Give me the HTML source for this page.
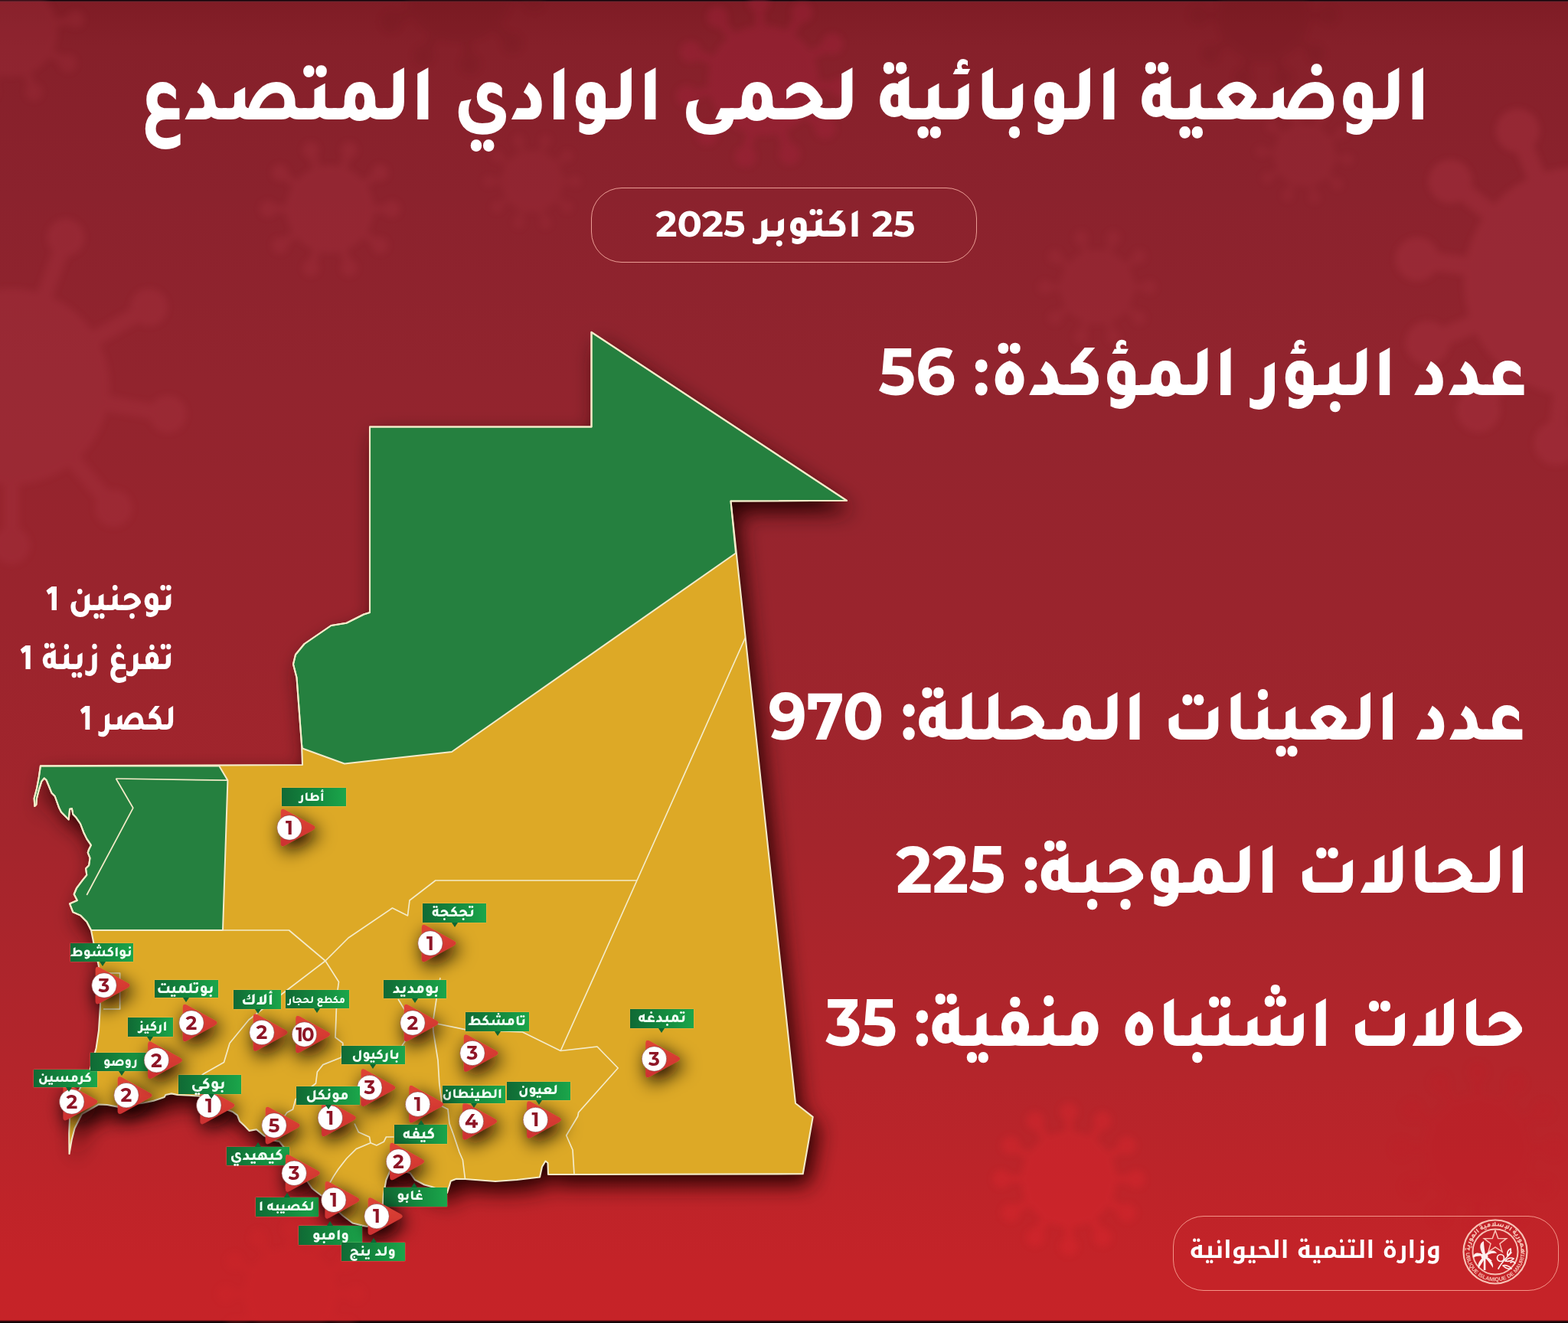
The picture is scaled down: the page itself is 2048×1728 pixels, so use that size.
<!DOCTYPE html><html lang="ar"><head><meta charset="utf-8"><title>الوضعية الوبائية لحمى الوادي المتصدع</title>
<style>

*{box-sizing:border-box;margin:0;padding:0}
html,body{width:2048px;height:1728px;overflow:hidden}
body{position:relative;font-family:"Almarai", "DejaVu Sans", sans-serif;color:#fff;
background:linear-gradient(180deg,#14040a 0px,#14040a 1px,#6d2a33 2px,#7f1c25 3px,#86202a 60px,#8b222d 250px,#92242e 500px,#9a242d 800px,#a4252c 1100px,#b4252b 1400px,#c42328 1650px,#c62328 1724px,#200508 1726px,#0a0204 1728px)}
.abs{position:absolute}
.txt{position:absolute;font-family:"Tajawal", "Almarai", "DejaVu Sans", sans-serif;font-weight:800;white-space:nowrap;direction:rtl;transform-origin:right center;line-height:0}
.txt b{font-family:"Montserrat", "Liberation Sans", sans-serif;font-weight:700}
.lb{position:absolute;background:linear-gradient(90deg,#106a35 0%,#148a3f 55%,#1ba64b 100%);color:#f1fff5;
font-family:"Tajawal", "Almarai", "DejaVu Sans", sans-serif;font-weight:800;white-space:nowrap;direction:rtl;box-shadow:0 0 1.5px rgba(255,230,160,.6)}
.lb span{position:absolute;line-height:0;white-space:nowrap;direction:rtl}
.lb i{position:absolute;width:0;height:0;border-left:4px solid transparent;border-right:4px solid transparent}
.lb i.down{top:100%;border-top:6px solid #0f6632}
.lb i.up{bottom:100%;border-bottom:6px solid #0f6632}
.pill{position:absolute;border:1.7px solid rgba(245,170,160,.9);border-radius:40px}

</style></head><body>
<svg class="abs" style="left:0;top:0" width="2048" height="1728" viewBox="0 0 2048 1728">
<defs><filter id="bl" x="-50%" y="-50%" width="200%" height="200%"><feGaussianBlur stdDeviation="4.5"/></filter><filter id="bl2" x="-50%" y="-50%" width="200%" height="200%"><feGaussianBlur stdDeviation="14"/></filter></defs>
<g opacity="0.36" filter="url(#bl)" fill="#a8323f" stroke="#a8323f"><circle cx="15" cy="505" r="128" stroke="none"/><line x1="128.4" y1="525.0" x2="219.2" y2="541.0" stroke-width="20.5"/><circle cx="219.2" cy="541.0" r="24.3" stroke="none"/><line x1="89.0" y1="593.2" x2="148.3" y2="663.8" stroke-width="20.5"/><circle cx="148.3" cy="663.8" r="24.3" stroke="none"/><line x1="15.0" y1="620.2" x2="15.0" y2="712.4" stroke-width="20.5"/><circle cx="15.0" cy="712.4" r="24.3" stroke="none"/><line x1="-59.0" y1="593.2" x2="-118.3" y2="663.8" stroke-width="20.5"/><circle cx="-118.3" cy="663.8" r="24.3" stroke="none"/><line x1="-98.4" y1="525.0" x2="-189.2" y2="541.0" stroke-width="20.5"/><circle cx="-189.2" cy="541.0" r="24.3" stroke="none"/><line x1="-84.8" y1="447.4" x2="-164.6" y2="401.3" stroke-width="20.5"/><circle cx="-164.6" cy="401.3" r="24.3" stroke="none"/><line x1="-24.4" y1="396.7" x2="-55.9" y2="310.1" stroke-width="20.5"/><circle cx="-55.9" cy="310.1" r="24.3" stroke="none"/><line x1="54.4" y1="396.7" x2="85.9" y2="310.1" stroke-width="20.5"/><circle cx="85.9" cy="310.1" r="24.3" stroke="none"/><line x1="114.8" y1="447.4" x2="194.6" y2="401.3" stroke-width="20.5"/><circle cx="194.6" cy="401.3" r="24.3" stroke="none"/></g>
<g opacity="0.25" filter="url(#bl)" fill="#a8323f" stroke="#a8323f"><circle cx="15" cy="40" r="60" stroke="none"/><line x1="61.8" y1="67.0" x2="88.8" y2="82.6" stroke-width="9.6"/><circle cx="88.8" cy="82.6" r="11.4" stroke="none"/><line x1="33.5" y1="90.7" x2="44.1" y2="120.1" stroke-width="9.6"/><circle cx="44.1" cy="120.1" r="11.4" stroke="none"/><line x1="-3.5" y1="90.7" x2="-14.1" y2="120.1" stroke-width="9.6"/><circle cx="-14.1" cy="120.1" r="11.4" stroke="none"/><line x1="-31.8" y1="67.0" x2="-58.8" y2="82.6" stroke-width="9.6"/><circle cx="-58.8" cy="82.6" r="11.4" stroke="none"/><line x1="-38.2" y1="30.6" x2="-68.9" y2="25.2" stroke-width="9.6"/><circle cx="-68.9" cy="25.2" r="11.4" stroke="none"/><line x1="-19.7" y1="-1.4" x2="-39.8" y2="-25.3" stroke-width="9.6"/><circle cx="-39.8" cy="-25.3" r="11.4" stroke="none"/><line x1="15.0" y1="-14.0" x2="15.0" y2="-45.2" stroke-width="9.6"/><circle cx="15.0" cy="-45.2" r="11.4" stroke="none"/><line x1="49.7" y1="-1.4" x2="69.8" y2="-25.3" stroke-width="9.6"/><circle cx="69.8" cy="-25.3" r="11.4" stroke="none"/><line x1="68.2" y1="30.6" x2="98.9" y2="25.2" stroke-width="9.6"/><circle cx="98.9" cy="25.2" r="11.4" stroke="none"/></g>
<g opacity="0.3" filter="url(#bl)" fill="#a8323f" stroke="#a8323f"><circle cx="431" cy="273" r="57" stroke="none"/><line x1="482.3" y1="273.0" x2="511.9" y2="273.0" stroke-width="9.1"/><circle cx="511.9" cy="273.0" r="10.8" stroke="none"/><line x1="472.5" y1="303.2" x2="496.5" y2="320.6" stroke-width="9.1"/><circle cx="496.5" cy="320.6" r="10.8" stroke="none"/><line x1="446.9" y1="321.8" x2="456.0" y2="350.0" stroke-width="9.1"/><circle cx="456.0" cy="350.0" r="10.8" stroke="none"/><line x1="415.1" y1="321.8" x2="406.0" y2="350.0" stroke-width="9.1"/><circle cx="406.0" cy="350.0" r="10.8" stroke="none"/><line x1="389.5" y1="303.2" x2="365.5" y2="320.6" stroke-width="9.1"/><circle cx="365.5" cy="320.6" r="10.8" stroke="none"/><line x1="379.7" y1="273.0" x2="350.1" y2="273.0" stroke-width="9.1"/><circle cx="350.1" cy="273.0" r="10.8" stroke="none"/><line x1="389.5" y1="242.8" x2="365.5" y2="225.4" stroke-width="9.1"/><circle cx="365.5" cy="225.4" r="10.8" stroke="none"/><line x1="415.1" y1="224.2" x2="406.0" y2="196.0" stroke-width="9.1"/><circle cx="406.0" cy="196.0" r="10.8" stroke="none"/><line x1="446.9" y1="224.2" x2="456.0" y2="196.0" stroke-width="9.1"/><circle cx="456.0" cy="196.0" r="10.8" stroke="none"/><line x1="472.5" y1="242.8" x2="496.5" y2="225.4" stroke-width="9.1"/><circle cx="496.5" cy="225.4" r="10.8" stroke="none"/></g>
<g opacity="0.22" filter="url(#bl)" fill="#a8323f" stroke="#a8323f"><circle cx="695" cy="237" r="40" stroke="none"/><line x1="731.0" y1="237.0" x2="751.8" y2="237.0" stroke-width="6.4"/><circle cx="751.8" cy="237.0" r="7.6" stroke="none"/><line x1="724.1" y1="258.2" x2="741.0" y2="270.4" stroke-width="6.4"/><circle cx="741.0" cy="270.4" r="7.6" stroke="none"/><line x1="706.1" y1="271.2" x2="712.6" y2="291.0" stroke-width="6.4"/><circle cx="712.6" cy="291.0" r="7.6" stroke="none"/><line x1="683.9" y1="271.2" x2="677.4" y2="291.0" stroke-width="6.4"/><circle cx="677.4" cy="291.0" r="7.6" stroke="none"/><line x1="665.9" y1="258.2" x2="649.0" y2="270.4" stroke-width="6.4"/><circle cx="649.0" cy="270.4" r="7.6" stroke="none"/><line x1="659.0" y1="237.0" x2="638.2" y2="237.0" stroke-width="6.4"/><circle cx="638.2" cy="237.0" r="7.6" stroke="none"/><line x1="665.9" y1="215.8" x2="649.0" y2="203.6" stroke-width="6.4"/><circle cx="649.0" cy="203.6" r="7.6" stroke="none"/><line x1="683.9" y1="202.8" x2="677.4" y2="183.0" stroke-width="6.4"/><circle cx="677.4" cy="183.0" r="7.6" stroke="none"/><line x1="706.1" y1="202.8" x2="712.6" y2="183.0" stroke-width="6.4"/><circle cx="712.6" cy="183.0" r="7.6" stroke="none"/><line x1="724.1" y1="215.8" x2="741.0" y2="203.6" stroke-width="6.4"/><circle cx="741.0" cy="203.6" r="7.6" stroke="none"/></g>
<g opacity="0.22" filter="url(#bl)" fill="#6e121c" stroke="#6e121c"><circle cx="600" cy="-15" r="70" stroke="none"/><line x1="662.0" y1="-4.1" x2="697.9" y2="2.3" stroke-width="11.2"/><circle cx="697.9" cy="2.3" r="13.3" stroke="none"/><line x1="643.8" y1="30.3" x2="669.0" y2="56.5" stroke-width="11.2"/><circle cx="669.0" cy="56.5" r="13.3" stroke="none"/><line x1="608.8" y1="47.4" x2="613.8" y2="83.4" stroke-width="11.2"/><circle cx="613.8" cy="83.4" r="13.3" stroke="none"/><line x1="570.4" y1="40.6" x2="553.3" y2="72.8" stroke-width="11.2"/><circle cx="553.3" cy="72.8" r="13.3" stroke="none"/><line x1="543.4" y1="12.6" x2="510.7" y2="28.6" stroke-width="11.2"/><circle cx="510.7" cy="28.6" r="13.3" stroke="none"/><line x1="538.0" y1="-25.9" x2="502.1" y2="-32.3" stroke-width="11.2"/><circle cx="502.1" cy="-32.3" r="13.3" stroke="none"/><line x1="556.2" y1="-60.3" x2="531.0" y2="-86.5" stroke-width="11.2"/><circle cx="531.0" cy="-86.5" r="13.3" stroke="none"/><line x1="591.2" y1="-77.4" x2="586.2" y2="-113.4" stroke-width="11.2"/><circle cx="586.2" cy="-113.4" r="13.3" stroke="none"/><line x1="629.6" y1="-70.6" x2="646.7" y2="-102.8" stroke-width="11.2"/><circle cx="646.7" cy="-102.8" r="13.3" stroke="none"/><line x1="656.6" y1="-42.6" x2="689.3" y2="-58.6" stroke-width="11.2"/><circle cx="689.3" cy="-58.6" r="13.3" stroke="none"/></g>
<g opacity="0.35" filter="url(#bl)" fill="#a8243e" stroke="#a8243e"><circle cx="997" cy="105" r="72" stroke="none"/><line x1="1061.6" y1="110.6" x2="1098.9" y2="113.9" stroke-width="11.5"/><circle cx="1098.9" cy="113.9" r="13.7" stroke="none"/><line x1="1048.3" y1="144.7" x2="1077.9" y2="167.6" stroke-width="11.5"/><circle cx="1077.9" cy="167.6" r="13.7" stroke="none"/><line x1="1018.7" y1="166.1" x2="1031.2" y2="201.3" stroke-width="11.5"/><circle cx="1031.2" cy="201.3" r="13.7" stroke="none"/><line x1="982.2" y1="168.1" x2="973.7" y2="204.5" stroke-width="11.5"/><circle cx="973.7" cy="204.5" r="13.7" stroke="none"/><line x1="950.5" y1="150.1" x2="923.6" y2="176.1" stroke-width="11.5"/><circle cx="923.6" cy="176.1" r="13.7" stroke="none"/><line x1="933.5" y1="117.8" x2="896.8" y2="125.1" stroke-width="11.5"/><circle cx="896.8" cy="125.1" r="13.7" stroke="none"/><line x1="936.7" y1="81.4" x2="901.8" y2="67.8" stroke-width="11.5"/><circle cx="901.8" cy="67.8" r="13.7" stroke="none"/><line x1="959.0" y1="52.5" x2="937.0" y2="22.2" stroke-width="11.5"/><circle cx="937.0" cy="22.2" r="13.7" stroke="none"/><line x1="993.4" y1="40.3" x2="991.3" y2="2.9" stroke-width="11.5"/><circle cx="991.3" cy="2.9" r="13.7" stroke="none"/><line x1="1029.0" y1="48.6" x2="1047.4" y2="16.1" stroke-width="11.5"/><circle cx="1047.4" cy="16.1" r="13.7" stroke="none"/><line x1="1054.4" y1="74.9" x2="1087.5" y2="57.4" stroke-width="11.5"/><circle cx="1087.5" cy="57.4" r="13.7" stroke="none"/></g>
<g opacity="0.22" filter="url(#bl)" fill="#6e121c" stroke="#6e121c"><circle cx="1650" cy="20" r="60" stroke="none"/><line x1="1704.0" y1="20.0" x2="1735.2" y2="20.0" stroke-width="9.6"/><circle cx="1735.2" cy="20.0" r="11.4" stroke="none"/><line x1="1693.7" y1="51.7" x2="1718.9" y2="70.1" stroke-width="9.6"/><circle cx="1718.9" cy="70.1" r="11.4" stroke="none"/><line x1="1666.7" y1="71.4" x2="1676.3" y2="101.0" stroke-width="9.6"/><circle cx="1676.3" cy="101.0" r="11.4" stroke="none"/><line x1="1633.3" y1="71.4" x2="1623.7" y2="101.0" stroke-width="9.6"/><circle cx="1623.7" cy="101.0" r="11.4" stroke="none"/><line x1="1606.3" y1="51.7" x2="1581.1" y2="70.1" stroke-width="9.6"/><circle cx="1581.1" cy="70.1" r="11.4" stroke="none"/><line x1="1596.0" y1="20.0" x2="1564.8" y2="20.0" stroke-width="9.6"/><circle cx="1564.8" cy="20.0" r="11.4" stroke="none"/><line x1="1606.3" y1="-11.7" x2="1581.1" y2="-30.1" stroke-width="9.6"/><circle cx="1581.1" cy="-30.1" r="11.4" stroke="none"/><line x1="1633.3" y1="-31.4" x2="1623.7" y2="-61.0" stroke-width="9.6"/><circle cx="1623.7" cy="-61.0" r="11.4" stroke="none"/><line x1="1666.7" y1="-31.4" x2="1676.3" y2="-61.0" stroke-width="9.6"/><circle cx="1676.3" cy="-61.0" r="11.4" stroke="none"/><line x1="1693.7" y1="-11.7" x2="1718.9" y2="-30.1" stroke-width="9.6"/><circle cx="1718.9" cy="-30.1" r="11.4" stroke="none"/></g>
<g opacity="0.42" filter="url(#bl)" fill="#a8323f" stroke="#a8323f"><circle cx="2062" cy="368" r="150" stroke="none"/><line x1="2195.7" y1="386.8" x2="2272.9" y2="397.6" stroke-width="24.0"/><circle cx="2272.9" cy="397.6" r="28.5" stroke="none"/><line x1="2168.4" y1="451.1" x2="2229.8" y2="499.1" stroke-width="24.0"/><circle cx="2229.8" cy="499.1" r="28.5" stroke="none"/><line x1="2112.6" y1="493.2" x2="2141.8" y2="565.5" stroke-width="24.0"/><circle cx="2141.8" cy="565.5" r="28.5" stroke="none"/><line x1="2043.2" y1="501.7" x2="2032.4" y2="578.9" stroke-width="24.0"/><circle cx="2032.4" cy="578.9" r="28.5" stroke="none"/><line x1="1978.9" y1="474.4" x2="1930.9" y2="535.8" stroke-width="24.0"/><circle cx="1930.9" cy="535.8" r="28.5" stroke="none"/><line x1="1936.8" y1="418.6" x2="1864.5" y2="447.8" stroke-width="24.0"/><circle cx="1864.5" cy="447.8" r="28.5" stroke="none"/><line x1="1928.3" y1="349.2" x2="1851.1" y2="338.4" stroke-width="24.0"/><circle cx="1851.1" cy="338.4" r="28.5" stroke="none"/><line x1="1955.6" y1="284.9" x2="1894.2" y2="236.9" stroke-width="24.0"/><circle cx="1894.2" cy="236.9" r="28.5" stroke="none"/><line x1="2011.4" y1="242.8" x2="1982.2" y2="170.5" stroke-width="24.0"/><circle cx="1982.2" cy="170.5" r="28.5" stroke="none"/><line x1="2080.8" y1="234.3" x2="2091.6" y2="157.1" stroke-width="24.0"/><circle cx="2091.6" cy="157.1" r="28.5" stroke="none"/><line x1="2145.1" y1="261.6" x2="2193.1" y2="200.2" stroke-width="24.0"/><circle cx="2193.1" cy="200.2" r="28.5" stroke="none"/><line x1="2187.2" y1="317.4" x2="2259.5" y2="288.2" stroke-width="24.0"/><circle cx="2259.5" cy="288.2" r="28.5" stroke="none"/></g>
<g opacity="0.25" filter="url(#bl)" fill="#a8323f" stroke="#a8323f"><circle cx="1433" cy="375" r="48" stroke="none"/><line x1="1476.2" y1="375.0" x2="1501.2" y2="375.0" stroke-width="7.7"/><circle cx="1501.2" cy="375.0" r="9.1" stroke="none"/><line x1="1467.9" y1="400.4" x2="1488.1" y2="415.1" stroke-width="7.7"/><circle cx="1488.1" cy="415.1" r="9.1" stroke="none"/><line x1="1446.3" y1="416.1" x2="1454.1" y2="439.8" stroke-width="7.7"/><circle cx="1454.1" cy="439.8" r="9.1" stroke="none"/><line x1="1419.7" y1="416.1" x2="1411.9" y2="439.8" stroke-width="7.7"/><circle cx="1411.9" cy="439.8" r="9.1" stroke="none"/><line x1="1398.1" y1="400.4" x2="1377.9" y2="415.1" stroke-width="7.7"/><circle cx="1377.9" cy="415.1" r="9.1" stroke="none"/><line x1="1389.8" y1="375.0" x2="1364.8" y2="375.0" stroke-width="7.7"/><circle cx="1364.8" cy="375.0" r="9.1" stroke="none"/><line x1="1398.1" y1="349.6" x2="1377.9" y2="334.9" stroke-width="7.7"/><circle cx="1377.9" cy="334.9" r="9.1" stroke="none"/><line x1="1419.7" y1="333.9" x2="1411.9" y2="310.2" stroke-width="7.7"/><circle cx="1411.9" cy="310.2" r="9.1" stroke="none"/><line x1="1446.3" y1="333.9" x2="1454.1" y2="310.2" stroke-width="7.7"/><circle cx="1454.1" cy="310.2" r="9.1" stroke="none"/><line x1="1467.9" y1="349.6" x2="1488.1" y2="334.9" stroke-width="7.7"/><circle cx="1488.1" cy="334.9" r="9.1" stroke="none"/></g>
<g opacity="0.22" filter="url(#bl)" fill="#a8323f" stroke="#a8323f"><circle cx="1704" cy="203" r="40" stroke="none"/><line x1="1739.9" y1="206.1" x2="1760.6" y2="208.0" stroke-width="6.4"/><circle cx="1760.6" cy="208.0" r="7.6" stroke="none"/><line x1="1731.2" y1="226.6" x2="1746.9" y2="240.3" stroke-width="6.4"/><circle cx="1746.9" cy="240.3" r="7.6" stroke="none"/><line x1="1712.1" y1="238.1" x2="1716.8" y2="258.3" stroke-width="6.4"/><circle cx="1716.8" cy="258.3" r="7.6" stroke="none"/><line x1="1689.9" y1="236.1" x2="1681.8" y2="255.3" stroke-width="6.4"/><circle cx="1681.8" cy="255.3" r="7.6" stroke="none"/><line x1="1673.1" y1="221.5" x2="1655.3" y2="232.3" stroke-width="6.4"/><circle cx="1655.3" cy="232.3" r="7.6" stroke="none"/><line x1="1668.1" y1="199.9" x2="1647.4" y2="198.0" stroke-width="6.4"/><circle cx="1647.4" cy="198.0" r="7.6" stroke="none"/><line x1="1676.8" y1="179.4" x2="1661.1" y2="165.7" stroke-width="6.4"/><circle cx="1661.1" cy="165.7" r="7.6" stroke="none"/><line x1="1695.9" y1="167.9" x2="1691.2" y2="147.7" stroke-width="6.4"/><circle cx="1691.2" cy="147.7" r="7.6" stroke="none"/><line x1="1718.1" y1="169.9" x2="1726.2" y2="150.7" stroke-width="6.4"/><circle cx="1726.2" cy="150.7" r="7.6" stroke="none"/><line x1="1734.9" y1="184.5" x2="1752.7" y2="173.7" stroke-width="6.4"/><circle cx="1752.7" cy="173.7" r="7.6" stroke="none"/></g>
<g opacity="0.35" filter="url(#bl)" fill="#e0282e" stroke="#e0282e"><circle cx="1396" cy="1540" r="62" stroke="none"/><line x1="1451.8" y1="1540.0" x2="1484.0" y2="1540.0" stroke-width="9.9"/><circle cx="1484.0" cy="1540.0" r="11.8" stroke="none"/><line x1="1444.3" y1="1567.9" x2="1472.2" y2="1584.0" stroke-width="9.9"/><circle cx="1472.2" cy="1584.0" r="11.8" stroke="none"/><line x1="1423.9" y1="1588.3" x2="1440.0" y2="1616.2" stroke-width="9.9"/><circle cx="1440.0" cy="1616.2" r="11.8" stroke="none"/><line x1="1396.0" y1="1595.8" x2="1396.0" y2="1628.0" stroke-width="9.9"/><circle cx="1396.0" cy="1628.0" r="11.8" stroke="none"/><line x1="1368.1" y1="1588.3" x2="1352.0" y2="1616.2" stroke-width="9.9"/><circle cx="1352.0" cy="1616.2" r="11.8" stroke="none"/><line x1="1347.7" y1="1567.9" x2="1319.8" y2="1584.0" stroke-width="9.9"/><circle cx="1319.8" cy="1584.0" r="11.8" stroke="none"/><line x1="1340.2" y1="1540.0" x2="1308.0" y2="1540.0" stroke-width="9.9"/><circle cx="1308.0" cy="1540.0" r="11.8" stroke="none"/><line x1="1347.7" y1="1512.1" x2="1319.8" y2="1496.0" stroke-width="9.9"/><circle cx="1319.8" cy="1496.0" r="11.8" stroke="none"/><line x1="1368.1" y1="1491.7" x2="1352.0" y2="1463.8" stroke-width="9.9"/><circle cx="1352.0" cy="1463.8" r="11.8" stroke="none"/><line x1="1396.0" y1="1484.2" x2="1396.0" y2="1452.0" stroke-width="9.9"/><circle cx="1396.0" cy="1452.0" r="11.8" stroke="none"/><line x1="1423.9" y1="1491.7" x2="1440.0" y2="1463.8" stroke-width="9.9"/><circle cx="1440.0" cy="1463.8" r="11.8" stroke="none"/><line x1="1444.3" y1="1512.1" x2="1472.2" y2="1496.0" stroke-width="9.9"/><circle cx="1472.2" cy="1496.0" r="11.8" stroke="none"/></g>
<g opacity="0.25" filter="url(#bl)" fill="#c01e25" stroke="#c01e25"><circle cx="1930" cy="1500" r="70" stroke="none"/><line x1="1993.0" y1="1500.0" x2="2029.4" y2="1500.0" stroke-width="11.2"/><circle cx="2029.4" cy="1500.0" r="13.3" stroke="none"/><line x1="1984.6" y1="1531.5" x2="2016.1" y2="1549.7" stroke-width="11.2"/><circle cx="2016.1" cy="1549.7" r="13.3" stroke="none"/><line x1="1961.5" y1="1554.6" x2="1979.7" y2="1586.1" stroke-width="11.2"/><circle cx="1979.7" cy="1586.1" r="13.3" stroke="none"/><line x1="1930.0" y1="1563.0" x2="1930.0" y2="1599.4" stroke-width="11.2"/><circle cx="1930.0" cy="1599.4" r="13.3" stroke="none"/><line x1="1898.5" y1="1554.6" x2="1880.3" y2="1586.1" stroke-width="11.2"/><circle cx="1880.3" cy="1586.1" r="13.3" stroke="none"/><line x1="1875.4" y1="1531.5" x2="1843.9" y2="1549.7" stroke-width="11.2"/><circle cx="1843.9" cy="1549.7" r="13.3" stroke="none"/><line x1="1867.0" y1="1500.0" x2="1830.6" y2="1500.0" stroke-width="11.2"/><circle cx="1830.6" cy="1500.0" r="13.3" stroke="none"/><line x1="1875.4" y1="1468.5" x2="1843.9" y2="1450.3" stroke-width="11.2"/><circle cx="1843.9" cy="1450.3" r="13.3" stroke="none"/><line x1="1898.5" y1="1445.4" x2="1880.3" y2="1413.9" stroke-width="11.2"/><circle cx="1880.3" cy="1413.9" r="13.3" stroke="none"/><line x1="1930.0" y1="1437.0" x2="1930.0" y2="1400.6" stroke-width="11.2"/><circle cx="1930.0" cy="1400.6" r="13.3" stroke="none"/><line x1="1961.5" y1="1445.4" x2="1979.7" y2="1413.9" stroke-width="11.2"/><circle cx="1979.7" cy="1413.9" r="13.3" stroke="none"/><line x1="1984.6" y1="1468.5" x2="2016.1" y2="1450.3" stroke-width="11.2"/><circle cx="2016.1" cy="1450.3" r="13.3" stroke="none"/></g>
<g opacity="0.2" filter="url(#bl)" fill="#d8262c" stroke="#d8262c"><circle cx="380" cy="1690" r="60" stroke="none"/><line x1="434.0" y1="1690.0" x2="465.2" y2="1690.0" stroke-width="9.6"/><circle cx="465.2" cy="1690.0" r="11.4" stroke="none"/><line x1="426.8" y1="1717.0" x2="453.8" y2="1732.6" stroke-width="9.6"/><circle cx="453.8" cy="1732.6" r="11.4" stroke="none"/><line x1="407.0" y1="1736.8" x2="422.6" y2="1763.8" stroke-width="9.6"/><circle cx="422.6" cy="1763.8" r="11.4" stroke="none"/><line x1="380.0" y1="1744.0" x2="380.0" y2="1775.2" stroke-width="9.6"/><circle cx="380.0" cy="1775.2" r="11.4" stroke="none"/><line x1="353.0" y1="1736.8" x2="337.4" y2="1763.8" stroke-width="9.6"/><circle cx="337.4" cy="1763.8" r="11.4" stroke="none"/><line x1="333.2" y1="1717.0" x2="306.2" y2="1732.6" stroke-width="9.6"/><circle cx="306.2" cy="1732.6" r="11.4" stroke="none"/><line x1="326.0" y1="1690.0" x2="294.8" y2="1690.0" stroke-width="9.6"/><circle cx="294.8" cy="1690.0" r="11.4" stroke="none"/><line x1="333.2" y1="1663.0" x2="306.2" y2="1647.4" stroke-width="9.6"/><circle cx="306.2" cy="1647.4" r="11.4" stroke="none"/><line x1="353.0" y1="1643.2" x2="337.4" y2="1616.2" stroke-width="9.6"/><circle cx="337.4" cy="1616.2" r="11.4" stroke="none"/><line x1="380.0" y1="1636.0" x2="380.0" y2="1604.8" stroke-width="9.6"/><circle cx="380.0" cy="1604.8" r="11.4" stroke="none"/><line x1="407.0" y1="1643.2" x2="422.6" y2="1616.2" stroke-width="9.6"/><circle cx="422.6" cy="1616.2" r="11.4" stroke="none"/><line x1="426.8" y1="1663.0" x2="453.8" y2="1647.4" stroke-width="9.6"/><circle cx="453.8" cy="1647.4" r="11.4" stroke="none"/></g>
</svg>
<div class="txt" style="right:180.0px;top:141.3px;font-size:105px;transform:scaleX(0.9263)">الوضعية الوبائية لحمى الوادي المتصدع</div>
<div class="pill" style="left:772px;top:245px;width:504px;height:98px"></div>
<div class="txt" style="right:853.2px;top:293.0px;font-size:53px;transform:scaleX(1.0169)"><b style="font-size:47px">25</b> اكتوبر <b style="font-size:47px">2025</b></div>
<svg class="abs" style="left:0;top:0" width="2048" height="1728" viewBox="0 0 2048 1728">
<defs><filter id="msh" x="-20%" y="-20%" width="140%" height="140%"><feGaussianBlur in="SourceAlpha" stdDeviation="14"/><feOffset dx="8" dy="14" result="o"/><feFlood flood-color="#260000" flood-opacity="1"/><feComposite in2="o" operator="in"/><feMerge><feMergeNode/><feMergeNode in="SourceGraphic"/></feMerge></filter><filter id="mks" x="-80%" y="-80%" width="260%" height="260%"><feGaussianBlur in="SourceAlpha" stdDeviation="12"/><feOffset dx="5" dy="8" result="o"/><feFlood flood-color="#100300" flood-opacity="1"/><feComposite in2="o" operator="in"/><feMerge><feMergeNode/><feMergeNode in="SourceGraphic"/></feMerge></filter><linearGradient id="mkg" x1="0" y1="0" x2="0" y2="1"><stop offset="0" stop-color="#df4536"/><stop offset="1" stop-color="#cc3030"/></linearGradient></defs>
<g filter="url(#msh)"><polygon points="772.5,433.8 1106.0,653.8 954.5,654.5 1039.0,1441.0 1061.7,1458.8 1048.7,1533.3 750.0,1534.0 716.0,1534.0 715.5,1519.0 712.5,1516.5 708.0,1524.0 705.0,1537.5 675.0,1541.0 647.0,1543.0 607.5,1540.0 596.0,1539.7 588.8,1542.5 584.0,1558.0 563.8,1550.0 554.4,1547.5 541.9,1541.0 535.6,1532.0 520.0,1528.0 510.6,1527.0 504.4,1541.0 501.0,1560.0 499.7,1574.0 496.0,1590.0 486.0,1600.0 479.4,1602.0 473.0,1600.6 460.6,1597.5 448.0,1588.0 436.0,1577.0 420.0,1561.6 413.8,1557.0 407.5,1552.0 401.0,1542.5 390.0,1526.0 378.8,1514.0 373.0,1501.0 365.0,1491.0 356.9,1489.4 344.4,1483.0 335.0,1475.3 325.6,1476.9 319.4,1470.6 313.0,1464.4 310.0,1456.6 303.8,1452.0 294.4,1448.8 278.8,1439.4 260.0,1431.6 247.5,1430.8 231.9,1430.0 224.0,1428.4 216.3,1430.0 214.7,1433.0 200.6,1437.8 185.0,1441.0 169.4,1442.5 153.8,1445.6 140.0,1443.0 128.8,1442.5 107.0,1455.0 97.5,1473.8 93.6,1489.0 90.5,1507.0 90.2,1480.0 91.2,1458.0 94.0,1446.0 100.0,1430.0 108.0,1415.0 116.0,1402.5 120.0,1389.0 125.6,1369.0 129.0,1346.0 131.0,1312.5 129.0,1262.0 122.0,1230.0 119.0,1215.0 113.3,1203.9 105.0,1195.6 95.3,1191.4 91.1,1180.3 100.8,1176.0 96.7,1168.0 100.0,1160.0 107.8,1149.7 113.3,1142.8 112.0,1134.4 116.1,1130.3 117.5,1120.6 114.7,1113.6 116.1,1109.4 118.9,1103.9 113.3,1095.6 109.2,1087.2 105.0,1076.0 99.4,1067.8 95.3,1063.6 93.9,1056.0 91.1,1056.7 89.7,1070.5 80.0,1060.8 77.2,1055.3 71.7,1040.0 67.5,1035.8 60.6,1019.0 57.8,1016.4 54.3,1020.6 50.8,1031.7 48.0,1042.8 47.4,1051.0 45.3,1053.0 44.6,1042.8 48.0,1030.0 50.8,1015.0 52.9,1000.4 395.0,999.0 394.0,972.0 387.5,885.0 383.0,867.5 386.0,855.0 397.5,841.0 432.5,817.0 452.5,813.8 475.0,802.5 483.0,800.0 483.0,557.5 772.5,557.5" fill="#DDA927"/></g>
<polygon points="772.5,433.8 1106.0,653.8 954.5,654.5 961.0,722.5 590.0,982.0 450.0,997.5 395.0,977.5 394.0,972.0 387.5,885.0 383.0,867.5 386.0,855.0 397.5,841.0 432.5,817.0 452.5,813.8 475.0,802.5 483.0,800.0 483.0,557.5 772.5,557.5" fill="#25803F" stroke="#F4EBC9" stroke-width="2" stroke-linejoin="round"/>
<polygon points="52.9,1000.4 286.3,1000.4 297.4,1019.2 291.0,1215.0 119.0,1215.0 113.3,1203.9 105.0,1195.6 95.3,1191.4 91.1,1180.3 100.8,1176.0 96.7,1168.0 100.0,1160.0 107.8,1149.7 113.3,1142.8 112.0,1134.4 116.1,1130.3 117.5,1120.6 114.7,1113.6 116.1,1109.4 118.9,1103.9 113.3,1095.6 109.2,1087.2 105.0,1076.0 99.4,1067.8 95.3,1063.6 93.9,1056.0 91.1,1056.7 89.7,1070.5 80.0,1060.8 77.2,1055.3 71.7,1040.0 67.5,1035.8 60.6,1019.0 57.8,1016.4 54.3,1020.6 50.8,1031.7 48.0,1042.8 47.4,1051.0 45.3,1053.0 44.6,1042.8 48.0,1030.0 50.8,1015.0" fill="#25803F" stroke="#F4EBC9" stroke-width="2" stroke-linejoin="round"/>
<polyline points="151.5,1017.0 297.4,1019.2" fill="none" stroke="#F4EBC9" stroke-width="1.7" stroke-linejoin="round"/>
<polyline points="151.5,1017.0 173.8,1055.3 113.3,1169.0" fill="none" stroke="#F4EBC9" stroke-width="1.7" stroke-linejoin="round"/>
<polyline points="119.0,1215.0 377.5,1215.0 425.0,1255.0 442.5,1282.5 440.0,1300.0 438.0,1355.0 448.0,1362.5" fill="none" stroke="#F4EBC9" stroke-width="1.7" stroke-linejoin="round"/>
<polyline points="448.0,1362.5 446.0,1381.0 421.9,1390.6 414.4,1400.0 412.5,1415.0 386.0,1436.0 382.5,1449.0 375.0,1453.0 365.0,1467.0" fill="none" stroke="#F4EBC9" stroke-width="1.7" stroke-linejoin="round"/>
<polyline points="832.0,1150.0 568.8,1150.0 535.0,1176.0 532.5,1196.0 512.5,1186.0 455.0,1225.0 425.0,1255.0 372.5,1295.0 325.0,1332.0 300.0,1362.5 292.5,1387.5 266.0,1402.5 250.0,1416.0 240.0,1429.0" fill="none" stroke="#F4EBC9" stroke-width="1.7" stroke-linejoin="round"/>
<polyline points="973.4,833.0 876.6,1050.0 782.8,1260.0 732.2,1372.5" fill="none" stroke="#F4EBC9" stroke-width="1.7" stroke-linejoin="round"/>
<polyline points="565.3,1336.0 607.5,1344.7 682.5,1348.0 732.2,1372.5 780.0,1367.0 807.2,1395.0 755.6,1453.0 754.7,1458.0 739.7,1483.0 748.0,1502.0 750.0,1534.0" fill="none" stroke="#F4EBC9" stroke-width="1.7" stroke-linejoin="round"/>
<polyline points="575.0,1277.0 570.0,1305.0 565.3,1336.0 566.0,1347.5 572.0,1385.0 573.8,1415.0 577.5,1445.0 585.0,1448.8 587.0,1467.5 592.5,1482.5 600.0,1505.0 604.4,1515.0 607.5,1540.0" fill="none" stroke="#F4EBC9" stroke-width="1.7" stroke-linejoin="round"/>
<polyline points="520.0,1305.0 529.7,1321.0 531.0,1340.0 528.8,1360.6 525.0,1366.0" fill="none" stroke="#F4EBC9" stroke-width="1.7" stroke-linejoin="round"/>
<polyline points="463.0,1467.5 468.4,1478.8 482.5,1485.0 484.0,1492.8 491.9,1496.0 501.3,1491.3 504.4,1485.0 514.5,1485.0" fill="none" stroke="#F4EBC9" stroke-width="1.7" stroke-linejoin="round"/>
<polyline points="484.0,1492.8 465.3,1500.6 452.8,1513.0 441.9,1527.0 435.6,1536.6 429.4,1547.5 422.0,1562.0" fill="none" stroke="#F4EBC9" stroke-width="1.7" stroke-linejoin="round"/>
<polyline points="135.0,1271.0 156.6,1271.0 156.6,1318.0 135.0,1318.0" fill="none" stroke="#F4EBC9" stroke-width="1.7" stroke-linejoin="round"/>
<polygon points="772.5,433.8 1106.0,653.8 954.5,654.5 1039.0,1441.0 1061.7,1458.8 1048.7,1533.3 750.0,1534.0 716.0,1534.0 715.5,1519.0 712.5,1516.5 708.0,1524.0 705.0,1537.5 675.0,1541.0 647.0,1543.0 607.5,1540.0 596.0,1539.7 588.8,1542.5 584.0,1558.0 563.8,1550.0 554.4,1547.5 541.9,1541.0 535.6,1532.0 520.0,1528.0 510.6,1527.0 504.4,1541.0 501.0,1560.0 499.7,1574.0 496.0,1590.0 486.0,1600.0 479.4,1602.0 473.0,1600.6 460.6,1597.5 448.0,1588.0 436.0,1577.0 420.0,1561.6 413.8,1557.0 407.5,1552.0 401.0,1542.5 390.0,1526.0 378.8,1514.0 373.0,1501.0 365.0,1491.0 356.9,1489.4 344.4,1483.0 335.0,1475.3 325.6,1476.9 319.4,1470.6 313.0,1464.4 310.0,1456.6 303.8,1452.0 294.4,1448.8 278.8,1439.4 260.0,1431.6 247.5,1430.8 231.9,1430.0 224.0,1428.4 216.3,1430.0 214.7,1433.0 200.6,1437.8 185.0,1441.0 169.4,1442.5 153.8,1445.6 140.0,1443.0 128.8,1442.5 107.0,1455.0 97.5,1473.8 93.6,1489.0 90.5,1507.0 90.2,1480.0 91.2,1458.0 94.0,1446.0 100.0,1430.0 108.0,1415.0 116.0,1402.5 120.0,1389.0 125.6,1369.0 129.0,1346.0 131.0,1312.5 129.0,1262.0 122.0,1230.0 119.0,1215.0 113.3,1203.9 105.0,1195.6 95.3,1191.4 91.1,1180.3 100.8,1176.0 96.7,1168.0 100.0,1160.0 107.8,1149.7 113.3,1142.8 112.0,1134.4 116.1,1130.3 117.5,1120.6 114.7,1113.6 116.1,1109.4 118.9,1103.9 113.3,1095.6 109.2,1087.2 105.0,1076.0 99.4,1067.8 95.3,1063.6 93.9,1056.0 91.1,1056.7 89.7,1070.5 80.0,1060.8 77.2,1055.3 71.7,1040.0 67.5,1035.8 60.6,1019.0 57.8,1016.4 54.3,1020.6 50.8,1031.7 48.0,1042.8 47.4,1051.0 45.3,1053.0 44.6,1042.8 48.0,1030.0 50.8,1015.0 52.9,1000.4 395.0,999.0 394.0,972.0 387.5,885.0 383.0,867.5 386.0,855.0 397.5,841.0 432.5,817.0 452.5,813.8 475.0,802.5 483.0,800.0 483.0,557.5 772.5,557.5" fill="none" stroke="#F4EBC9" stroke-width="2.1" stroke-linejoin="round"/>
</svg>
<svg class="abs" style="left:0;top:0;overflow:visible" width="1" height="1"><g filter="url(#mks)"><g class="mk"><path d="M372.4,1057.7 L408.8,1077.8 Q414.5,1081.0 408.8,1084.2 L372.4,1104.3 Q366.7,1107.5 366.7,1101.0 L366.7,1061.0 Q366.7,1054.5 372.4,1057.7 Z" fill="url(#mkg)"/><circle cx="378.0" cy="1081.0" r="16.3" fill="#FFFFFF" stroke="#6a1414" stroke-opacity="0.55" stroke-width="0.9"/><text x="378.0" y="1089.8" text-anchor="middle" font-size="25" letter-spacing="0" font-family='Montserrat' font-weight="700" fill="#8E1328">1</text></g></g></svg>
<div class="lb" style="left:368.0px;top:1029.0px;width:83.5px;height:24.0px"><span id="lb_atar" style="font-size:17.25px;top:14.79px;right:28.0px">أطار</span><i class="none" style="left:28.0px"></i></div>
<svg class="abs" style="left:0;top:0;overflow:visible" width="1" height="1"><g filter="url(#mks)"><g class="mk"><path d="M556.4,1208.7 L592.8,1228.8 Q598.5,1232.0 592.8,1235.2 L556.4,1255.3 Q550.7,1258.5 550.7,1252.0 L550.7,1212.0 Q550.7,1205.5 556.4,1208.7 Z" fill="url(#mkg)"/><circle cx="562.0" cy="1232.0" r="16.3" fill="#FFFFFF" stroke="#6a1414" stroke-opacity="0.55" stroke-width="0.9"/><text x="562.0" y="1240.8" text-anchor="middle" font-size="25" letter-spacing="0" font-family='Montserrat' font-weight="700" fill="#8E1328">1</text></g></g></svg>
<div class="lb" style="left:552.0px;top:1180.0px;width:82.5px;height:24.5px"><span id="lb_tijikja" style="font-size:19.64px;top:14.45px;right:14.5px">تجكجة</span><i class="down" style="left:38.0px"></i></div>
<svg class="abs" style="left:0;top:0;overflow:visible" width="1" height="1"><g filter="url(#mks)"><g class="mk"><path d="M130.4,1263.7 L166.8,1283.8 Q172.5,1287.0 166.8,1290.2 L130.4,1310.3 Q124.7,1313.5 124.7,1307.0 L124.7,1267.0 Q124.7,1260.5 130.4,1263.7 Z" fill="url(#mkg)"/><circle cx="136.0" cy="1287.0" r="16.3" fill="#FFFFFF" stroke="#6a1414" stroke-opacity="0.55" stroke-width="0.9"/><text x="136.0" y="1295.8" text-anchor="middle" font-size="25" letter-spacing="0" font-family='Montserrat' font-weight="700" fill="#8E1328">3</text></g></g></svg>
<div class="lb" style="left:91.5px;top:1232.0px;width:82.9px;height:24.0px"><span id="lb_nkc" style="font-size:18.72px;top:14.58px;right:1.9px">نواكشوط</span><i class="down" style="left:38.5px"></i></div>
<svg class="abs" style="left:0;top:0;overflow:visible" width="1" height="1"><g filter="url(#mks)"><g class="mk"><path d="M244.4,1312.7 L280.8,1332.8 Q286.5,1336.0 280.8,1339.2 L244.4,1359.3 Q238.7,1362.5 238.7,1356.0 L238.7,1316.0 Q238.7,1309.5 244.4,1312.7 Z" fill="url(#mkg)"/><circle cx="250.0" cy="1336.0" r="16.3" fill="#FFFFFF" stroke="#6a1414" stroke-opacity="0.55" stroke-width="0.9"/><text x="250.0" y="1344.8" text-anchor="middle" font-size="25" letter-spacing="0" font-family='Montserrat' font-weight="700" fill="#8E1328">2</text></g></g></svg>
<div class="lb" style="left:201.6px;top:1279.7px;width:83.4px;height:23.8px"><span id="lb_boutilimit" style="font-size:20.44px;top:14.34px;right:5.6px">بوتلميت</span><i class="down" style="left:37.4px"></i></div>
<svg class="abs" style="left:0;top:0;overflow:visible" width="1" height="1"><g filter="url(#mks)"><g class="mk"><path d="M336.4,1325.2 L372.8,1345.3 Q378.5,1348.5 372.8,1351.7 L336.4,1371.8 Q330.7,1375.0 330.7,1368.5 L330.7,1328.5 Q330.7,1322.0 336.4,1325.2 Z" fill="url(#mkg)"/><circle cx="342.0" cy="1348.5" r="16.3" fill="#FFFFFF" stroke="#6a1414" stroke-opacity="0.55" stroke-width="0.9"/><text x="342.0" y="1357.3" text-anchor="middle" font-size="25" letter-spacing="0" font-family='Montserrat' font-weight="700" fill="#8E1328">2</text></g></g></svg>
<div class="lb" style="left:304.7px;top:1293.3px;width:62.1px;height:24.3px"><span id="lb_aleg" style="font-size:21.55px;top:15.48px;right:9.8px">ألاك</span><i class="down" style="left:27.9px"></i></div>
<svg class="abs" style="left:0;top:0;overflow:visible" width="1" height="1"><g filter="url(#mks)"><g class="mk"><path d="M391.9,1327.7 L428.3,1347.8 Q434.0,1351.0 428.3,1354.2 L391.9,1374.3 Q386.2,1377.5 386.2,1371.0 L386.2,1331.0 Q386.2,1324.5 391.9,1327.7 Z" fill="url(#mkg)"/><circle cx="397.5" cy="1351.0" r="16.3" fill="#FFFFFF" stroke="#6a1414" stroke-opacity="0.55" stroke-width="0.9"/><text x="397.5" y="1359.8" text-anchor="middle" font-size="24.5" letter-spacing="-1.8" font-family='Montserrat' font-weight="700" fill="#8E1328">10</text></g></g></svg>
<div class="lb" style="left:373.1px;top:1293.1px;width:82.5px;height:24.4px"><span id="lb_mokhta" style="font-size:13.81px;top:15.27px;right:4.6px">مكطع لحجار</span><i class="down" style="left:37.3px"></i></div>
<svg class="abs" style="left:0;top:0;overflow:visible" width="1" height="1"><g filter="url(#mks)"><g class="mk"><path d="M533.4,1312.7 L569.8,1332.8 Q575.5,1336.0 569.8,1339.2 L533.4,1359.3 Q527.7,1362.5 527.7,1356.0 L527.7,1316.0 Q527.7,1309.5 533.4,1312.7 Z" fill="url(#mkg)"/><circle cx="539.0" cy="1336.0" r="16.3" fill="#FFFFFF" stroke="#6a1414" stroke-opacity="0.55" stroke-width="0.9"/><text x="539.0" y="1344.8" text-anchor="middle" font-size="25" letter-spacing="0" font-family='Montserrat' font-weight="700" fill="#8E1328">2</text></g></g></svg>
<div class="lb" style="left:500.6px;top:1280.0px;width:82.5px;height:24.4px"><span id="lb_boumdeid" style="font-size:20.56px;top:14.32px;right:9.3px">بومديد</span><i class="down" style="left:37.4px"></i></div>
<svg class="abs" style="left:0;top:0;overflow:visible" width="1" height="1"><g filter="url(#mks)"><g class="mk"><path d="M611.4,1352.2 L647.8,1372.3 Q653.5,1375.5 647.8,1378.7 L611.4,1398.8 Q605.7,1402.0 605.7,1395.5 L605.7,1355.5 Q605.7,1349.0 611.4,1352.2 Z" fill="url(#mkg)"/><circle cx="617.0" cy="1375.5" r="16.3" fill="#FFFFFF" stroke="#6a1414" stroke-opacity="0.55" stroke-width="0.9"/><text x="617.0" y="1384.3" text-anchor="middle" font-size="25" letter-spacing="0" font-family='Montserrat' font-weight="700" fill="#8E1328">3</text></g></g></svg>
<div class="lb" style="left:607.9px;top:1322.3px;width:83.4px;height:24.3px"><span id="lb_tamchakett" style="font-size:19.16px;top:14.52px;right:4.3px">تامشكط</span><i class="down" style="left:37.8px"></i></div>
<svg class="abs" style="left:0;top:0;overflow:visible" width="1" height="1"><g filter="url(#mks)"><g class="mk"><path d="M848.9,1359.7 L885.3,1379.8 Q891.0,1383.0 885.3,1386.2 L848.9,1406.3 Q843.2,1409.5 843.2,1403.0 L843.2,1363.0 Q843.2,1356.5 848.9,1359.7 Z" fill="url(#mkg)"/><circle cx="854.5" cy="1383.0" r="16.3" fill="#FFFFFF" stroke="#6a1414" stroke-opacity="0.55" stroke-width="0.9"/><text x="854.5" y="1391.8" text-anchor="middle" font-size="25" letter-spacing="0" font-family='Montserrat' font-weight="700" fill="#8E1328">3</text></g></g></svg>
<div class="lb" style="left:823.0px;top:1318.0px;width:82.8px;height:24.5px"><span id="lb_timbedgha" style="font-size:20.05px;top:14.39px;right:9.8px">تمبدغه</span><i class="down" style="left:37.3px"></i></div>
<svg class="abs" style="left:0;top:0;overflow:visible" width="1" height="1"><g filter="url(#mks)"><g class="mk"><path d="M88.2,1415.7 L124.6,1435.8 Q130.3,1439.0 124.6,1442.2 L88.2,1462.3 Q82.5,1465.5 82.5,1459.0 L82.5,1419.0 Q82.5,1412.5 88.2,1415.7 Z" fill="url(#mkg)"/><circle cx="93.8" cy="1439.0" r="16.3" fill="#FFFFFF" stroke="#6a1414" stroke-opacity="0.55" stroke-width="0.9"/><text x="93.8" y="1447.8" text-anchor="middle" font-size="25" letter-spacing="0" font-family='Montserrat' font-weight="700" fill="#8E1328">2</text></g></g></svg>
<div class="lb" style="left:44.0px;top:1396.9px;width:82.6px;height:23.4px"><span id="lb_keur" style="font-size:18.61px;top:14.59px;right:6.6px">كرمسين</span><i class="down" style="left:42.0px"></i></div>
<svg class="abs" style="left:0;top:0;overflow:visible" width="1" height="1"><g filter="url(#mks)"><g class="mk"><path d="M159.4,1407.3 L195.8,1427.4 Q201.5,1430.6 195.8,1433.8 L159.4,1453.9 Q153.7,1457.1 153.7,1450.6 L153.7,1410.6 Q153.7,1404.1 159.4,1407.3 Z" fill="url(#mkg)"/><circle cx="165.0" cy="1430.6" r="16.3" fill="#FFFFFF" stroke="#6a1414" stroke-opacity="0.55" stroke-width="0.9"/><text x="165.0" y="1439.4" text-anchor="middle" font-size="25" letter-spacing="0" font-family='Montserrat' font-weight="700" fill="#8E1328">2</text></g></g></svg>
<div class="lb" style="left:118.1px;top:1375.3px;width:82.9px;height:23.5px"><span id="lb_rosso" style="font-size:17.74px;top:14.72px;right:21.0px">روصو</span><i class="down" style="left:37.3px"></i></div>
<svg class="abs" style="left:0;top:0;overflow:visible" width="1" height="1"><g filter="url(#mks)"><g class="mk"><path d="M198.8,1361.4 L235.2,1381.5 Q240.9,1384.7 235.2,1387.9 L198.8,1408.0 Q193.1,1411.2 193.1,1404.7 L193.1,1364.7 Q193.1,1358.2 198.8,1361.4 Z" fill="url(#mkg)"/><circle cx="204.4" cy="1384.7" r="16.3" fill="#FFFFFF" stroke="#6a1414" stroke-opacity="0.55" stroke-width="0.9"/><text x="204.4" y="1393.5" text-anchor="middle" font-size="25" letter-spacing="0" font-family='Montserrat' font-weight="700" fill="#8E1328">2</text></g></g></svg>
<div class="lb" style="left:166.9px;top:1329.0px;width:59.1px;height:24.8px"><span id="lb_rkiz" style="font-size:18.43px;top:14.62px;right:7.6px">اركيز</span><i class="down" style="left:25.1px"></i></div>
<svg class="abs" style="left:0;top:0;overflow:visible" width="1" height="1"><g filter="url(#mks)"><g class="mk"><path d="M267.2,1420.5 L303.6,1440.6 Q309.3,1443.8 303.6,1447.0 L267.2,1467.1 Q261.5,1470.3 261.5,1463.8 L261.5,1423.8 Q261.5,1417.3 267.2,1420.5 Z" fill="url(#mkg)"/><circle cx="272.8" cy="1443.8" r="16.3" fill="#FFFFFF" stroke="#6a1414" stroke-opacity="0.55" stroke-width="0.9"/><text x="272.8" y="1452.6" text-anchor="middle" font-size="25" letter-spacing="0" font-family='Montserrat' font-weight="700" fill="#8E1328">1</text></g></g></svg>
<div class="lb" style="left:232.5px;top:1404.4px;width:82.5px;height:24.4px"><span id="lb_boghe" style="font-size:21.29px;top:14.22px;right:20.6px">بوكي</span><i class="down" style="left:39.1px"></i></div>
<svg class="abs" style="left:0;top:0;overflow:visible" width="1" height="1"><g filter="url(#mks)"><g class="mk"><path d="M477.2,1397.3 L513.6,1417.4 Q519.3,1420.6 513.6,1423.8 L477.2,1443.9 Q471.5,1447.1 471.5,1440.6 L471.5,1400.6 Q471.5,1394.1 477.2,1397.3 Z" fill="url(#mkg)"/><circle cx="482.8" cy="1420.6" r="16.3" fill="#FFFFFF" stroke="#6a1414" stroke-opacity="0.55" stroke-width="0.9"/><text x="482.8" y="1429.4" text-anchor="middle" font-size="25" letter-spacing="0" font-family='Montserrat' font-weight="700" fill="#8E1328">3</text></g></g></svg>
<div class="lb" style="left:446.3px;top:1366.3px;width:82.5px;height:23.4px"><span id="lb_barkeol" style="font-size:18.91px;top:14.55px;right:6.8px">باركيول</span><i class="down" style="left:37.2px"></i></div>
<svg class="abs" style="left:0;top:0;overflow:visible" width="1" height="1"><g filter="url(#mks)"><g class="mk"><path d="M425.7,1436.7 L462.1,1456.8 Q467.8,1460.0 462.1,1463.2 L425.7,1483.3 Q420.0,1486.5 420.0,1480.0 L420.0,1440.0 Q420.0,1433.5 425.7,1436.7 Z" fill="url(#mkg)"/><circle cx="431.3" cy="1460.0" r="16.3" fill="#FFFFFF" stroke="#6a1414" stroke-opacity="0.55" stroke-width="0.9"/><text x="431.3" y="1468.8" text-anchor="middle" font-size="25" letter-spacing="0" font-family='Montserrat' font-weight="700" fill="#8E1328">1</text></g></g></svg>
<div class="lb" style="left:387.2px;top:1418.8px;width:82.5px;height:24.3px"><span id="lb_monguel" style="font-size:19.56px;top:14.46px;right:14.1px">مونكل</span><i class="down" style="left:38.2px"></i></div>
<svg class="abs" style="left:0;top:0;overflow:visible" width="1" height="1"><g filter="url(#mks)"><g class="mk"><path d="M609.9,1441.2 L646.3,1461.3 Q652.0,1464.5 646.3,1467.7 L609.9,1487.8 Q604.2,1491.0 604.2,1484.5 L604.2,1444.5 Q604.2,1438.0 609.9,1441.2 Z" fill="url(#mkg)"/><circle cx="615.5" cy="1464.5" r="16.3" fill="#FFFFFF" stroke="#6a1414" stroke-opacity="0.55" stroke-width="0.9"/><text x="615.5" y="1473.3" text-anchor="middle" font-size="25" letter-spacing="0" font-family='Montserrat' font-weight="700" fill="#8E1328">4</text></g></g></svg>
<div class="lb" style="left:577.5px;top:1417.8px;width:82.5px;height:23.5px"><span id="lb_tintane" style="font-size:18.32px;top:14.64px;right:4.0px">الطينطان</span><i class="down" style="left:37.3px"></i></div>
<svg class="abs" style="left:0;top:0;overflow:visible" width="1" height="1"><g filter="url(#mks)"><g class="mk"><path d="M693.8,1439.2 L730.2,1459.3 Q735.9,1462.5 730.2,1465.7 L693.8,1485.8 Q688.1,1489.0 688.1,1482.5 L688.1,1442.5 Q688.1,1436.0 693.8,1439.2 Z" fill="url(#mkg)"/><circle cx="699.4" cy="1462.5" r="16.3" fill="#FFFFFF" stroke="#6a1414" stroke-opacity="0.55" stroke-width="0.9"/><text x="699.4" y="1471.3" text-anchor="middle" font-size="25" letter-spacing="0" font-family='Montserrat' font-weight="700" fill="#8E1328">1</text></g></g></svg>
<div class="lb" style="left:662.3px;top:1412.8px;width:83.0px;height:24.4px"><span id="lb_aioun" style="font-size:19.08px;top:14.53px;right:16.3px">لعيون</span><i class="down" style="left:37.7px"></i></div>
<svg class="abs" style="left:0;top:0;overflow:visible" width="1" height="1"><g filter="url(#mks)"><g class="mk"><path d="M540.0,1418.9 L576.4,1439.0 Q582.1,1442.2 576.4,1445.4 L540.0,1465.5 Q534.3,1468.7 534.3,1462.2 L534.3,1422.2 Q534.3,1415.7 540.0,1418.9 Z" fill="url(#mkg)"/><circle cx="545.6" cy="1442.2" r="16.3" fill="#FFFFFF" stroke="#6a1414" stroke-opacity="0.55" stroke-width="0.9"/><text x="545.6" y="1451.0" text-anchor="middle" font-size="25" letter-spacing="0" font-family='Montserrat' font-weight="700" fill="#8E1328">1</text></g></g></svg>
<div class="lb" style="left:514.6px;top:1469.4px;width:69.4px;height:24.3px"><span id="lb_kiffa1" style="font-size:20.74px;top:14.30px;right:15.6px">كيفه</span><i class="up" style="left:31.1px"></i></div>
<svg class="abs" style="left:0;top:0;overflow:visible" width="1" height="1"><g filter="url(#mks)"><g class="mk"><path d="M352.4,1446.7 L388.8,1466.8 Q394.5,1470.0 388.8,1473.2 L352.4,1493.3 Q346.7,1496.5 346.7,1490.0 L346.7,1450.0 Q346.7,1443.5 352.4,1446.7 Z" fill="url(#mkg)"/><circle cx="358.0" cy="1470.0" r="16.3" fill="#FFFFFF" stroke="#6a1414" stroke-opacity="0.55" stroke-width="0.9"/><text x="358.0" y="1478.8" text-anchor="middle" font-size="25" letter-spacing="0" font-family='Montserrat' font-weight="700" fill="#8E1328">5</text></g></g></svg>
<div class="lb" style="left:296.3px;top:1498.0px;width:81.5px;height:23.6px"><span id="lb_mbout" style="font-size:20.69px;top:14.30px;right:7.8px">كيهيدي</span><i class="up" style="left:36.3px"></i></div>
<svg class="abs" style="left:0;top:0;overflow:visible" width="1" height="1"><g filter="url(#mks)"><g class="mk"><path d="M514.9,1493.7 L551.3,1513.8 Q557.0,1517.0 551.3,1520.2 L514.9,1540.3 Q509.2,1543.5 509.2,1537.0 L509.2,1497.0 Q509.2,1490.5 514.9,1493.7 Z" fill="url(#mkg)"/><circle cx="520.5" cy="1517.0" r="16.3" fill="#FFFFFF" stroke="#6a1414" stroke-opacity="0.55" stroke-width="0.9"/><text x="520.5" y="1525.8" text-anchor="middle" font-size="25" letter-spacing="0" font-family='Montserrat' font-weight="700" fill="#8E1328">2</text></g></g></svg>
<div class="lb" style="left:501.3px;top:1550.6px;width:82.7px;height:25.0px"><span id="lb_kiffa2" style="font-size:18.49px;top:14.61px;right:31.2px">غابو</span><i class="up" style="left:35.7px"></i></div>
<svg class="abs" style="left:0;top:0;overflow:visible" width="1" height="1"><g filter="url(#mks)"><g class="mk"><path d="M378.6,1509.0 L415.0,1529.1 Q420.7,1532.3 415.0,1535.5 L378.6,1555.6 Q372.9,1558.8 372.9,1552.3 L372.9,1512.3 Q372.9,1505.8 378.6,1509.0 Z" fill="url(#mkg)"/><circle cx="384.2" cy="1532.3" r="16.3" fill="#FFFFFF" stroke="#6a1414" stroke-opacity="0.55" stroke-width="0.9"/><text x="384.2" y="1541.1" text-anchor="middle" font-size="25" letter-spacing="0" font-family='Montserrat' font-weight="700" fill="#8E1328">3</text></g></g></svg>
<div class="lb" style="left:333.5px;top:1564.0px;width:82.5px;height:25.0px"><span id="lb_kaedi" style="font-size:18.54px;top:14.61px;right:5.4px">لكصيبه ا</span><i class="up" style="left:37.2px"></i></div>
<svg class="abs" style="left:0;top:0;overflow:visible" width="1" height="1"><g filter="url(#mks)"><g class="mk"><path d="M430.2,1544.0 L466.6,1564.1 Q472.3,1567.3 466.6,1570.5 L430.2,1590.6 Q424.5,1593.8 424.5,1587.3 L424.5,1547.3 Q424.5,1540.8 430.2,1544.0 Z" fill="url(#mkg)"/><circle cx="435.8" cy="1567.3" r="16.3" fill="#FFFFFF" stroke="#6a1414" stroke-opacity="0.55" stroke-width="0.9"/><text x="435.8" y="1576.1" text-anchor="middle" font-size="25" letter-spacing="0" font-family='Montserrat' font-weight="700" fill="#8E1328">1</text></g></g></svg>
<div class="lb" style="left:389.5px;top:1601.4px;width:83.5px;height:24.2px"><span id="lb_wompou" style="font-size:19.93px;top:14.41px;right:17.0px">وامبو</span><i class="up" style="left:37.5px"></i></div>
<svg class="abs" style="left:0;top:0;overflow:visible" width="1" height="1"><g filter="url(#mks)"><g class="mk"><path d="M486.4,1565.3 L522.8,1585.4 Q528.5,1588.6 522.8,1591.8 L486.4,1611.9 Q480.7,1615.1 480.7,1608.6 L480.7,1568.6 Q480.7,1562.1 486.4,1565.3 Z" fill="url(#mkg)"/><circle cx="492.0" cy="1588.6" r="16.3" fill="#FFFFFF" stroke="#6a1414" stroke-opacity="0.55" stroke-width="0.9"/><text x="492.0" y="1597.4" text-anchor="middle" font-size="25" letter-spacing="0" font-family='Montserrat' font-weight="700" fill="#8E1328">1</text></g></g></svg>
<div class="lb" style="left:445.8px;top:1623.3px;width:83.6px;height:24.2px"><span id="lb_ouldyenge" style="font-size:19.24px;top:14.51px;right:12.4px">ولد ينج</span><i class="up" style="left:38.2px"></i></div>
<div class="txt" style="right:53.0px;top:485.8px;font-size:96px;transform:scaleX(0.9611)">عدد البؤر المؤكدة<b style=font-size:85px>: 56</b></div>
<div class="txt" style="right:55.0px;top:935.6px;font-size:96px;transform:scaleX(0.9282)">عدد العينات المحللة<b style=font-size:85px>: 970</b></div>
<div class="txt" style="right:50.6px;top:1135.6px;font-size:96px;transform:scaleX(0.9470)">الحالات الموجبة<b style=font-size:85px>: 225</b></div>
<div class="txt" style="right:55.2px;top:1335.8px;font-size:96px;transform:scaleX(0.9302)">حالات اشتباه منفية<b style=font-size:85px>: 35</b></div>
<div class="txt" style="right:1820.2px;top:790.0px;font-size:48px;transform:scaleX(0.9397)">توجنين 1</div>
<div class="txt" style="right:1821.2px;top:867.3px;font-size:48px;transform:scaleX(0.9011)">تفرغ زينة 1</div>
<div class="txt" style="right:1818.0px;top:945.5px;font-size:48px;transform:scaleX(0.8553)">لكصر 1</div>
<div class="pill" style="left:1532px;top:1588px;width:504px;height:98px;border-color:rgba(248,160,145,.9)"></div>
<div class="txt" style="right:166.3px;top:1633.0px;font-size:31px;transform:scaleX(0.9893);font-weight:700;font-family:&quot;Noto Kufi Arabic&quot;,Tajawal,sans-serif">وزارة التنمية الحيوانية</div>
<svg class="abs" style="left:1907px;top:1589px" width="92" height="92" viewBox="-46 -46 92 92"><defs><path id="ringT" d="M-33.5,0 A33.5,33.5 0 0 1 33.5,0"/><path id="ringB" d="M-38.5,0 A38.5,38.5 0 0 0 38.5,0"/></defs><g fill="none" stroke="#f8c2b5"><circle r="41.5" stroke-width="2.2"/><circle r="29.5" stroke-width="2"/></g><text font-family="Tajawal,sans-serif" font-weight="900" font-size="9" fill="#f8c2b5"><textPath href="#ringT" startOffset="50%" text-anchor="middle">الجمهورية الإسلامية الموريتانية</textPath></text><text font-family="Liberation Sans,sans-serif" font-weight="700" font-size="7.2" fill="#f8c2b5"><textPath href="#ringB" startOffset="50%" text-anchor="middle">REPUBLIQUE ISLAMIQUE DE MAURITANIE</textPath></text><polygon points="0.0,-28.0 3.7,-17.6 14.7,-17.3 6.0,-10.6 9.1,0.0 0.0,-6.2 -9.1,0.0 -6.0,-10.6 -14.7,-17.3 -3.7,-17.6" fill="#c9222a" stroke="#f8c2b5" stroke-width="1.5" stroke-linejoin="miter"/><g fill="#fdf0ee"><path d="M-16,4 C-22,-6 -20,-12 -15,-14 C-15,-8 -14,-2 -13,3 Z"/><path d="M-14,4 C-6,-4 0,-2 2,2 C-4,1 -9,3 -13,6 Z"/><path d="M-15,4 C-24,-1 -29,2 -29,8 C-24,5 -19,5 -15,7 Z"/><path d="M-14,6 C-20,10 -24,16 -22,22 C-18,16 -16,12 -13,8 Z"/><path d="M-13,6 C-6,9 -2,15 -3,21 C-7,15 -10,11 -13,8 Z"/><path d="M-13,6 C-11,10 -8,12 -4,12 C-7,9 -10,7 -13,6 Z"/><ellipse cx="-14" cy="6" rx="4.5" ry="3.5"/><rect x="-15.2" y="6" width="2.6" height="18"/></g><g fill="none" stroke="#fdf0ee" stroke-width="1.7" stroke-linecap="round"><circle cx="7" cy="8" r="4.5"/><path d="M4,22 C8,14 14,8 21,1"/><path d="M13,12 C16,8 21,7 24,9 C21,12 17,13 13,12"/><path d="M16,5 C15,1 17,-3 20,-4 C21,0 19,3 16,5"/><path d="M10,18 C14,17 19,19 21,22 C17,23 13,21 10,18"/><path d="M20,14 C23,12 25,13 26,15"/></g></svg>
<script>
(function(){
var T=[1818.61, 333.2, 882.2, 1065.8, 872.97, 982.34, 178.48, 222.88, 146.89, 331.86], L={"lb_atar": 32.5, "lb_tijikja": 56.02, "lb_nkc": 81.02, "lb_boutilimit": 75.02, "lb_aleg": 42, "lb_mokhta": 74.94, "lb_boumdeid": 60.97, "lb_tamchakett": 76, "lb_timbedgha": 62.44, "lb_keur": 70.3, "lb_rosso": 44.98, "lb_rkiz": 37.39, "lb_boghe": 45.02, "lb_barkeol": 62.61, "lb_monguel": 56.22, "lb_tintane": 78.5, "lb_aioun": 52, "lb_kiffa1": 42.41, "lb_mbout": 69.39, "lb_kiffa2": 34.42, "lb_kaedi": 72.63, "lb_wompou": 48, "lb_ouldyenge": 61.02};
var els=document.querySelectorAll('.txt'), S=[], F={};
for(var i=0;i<els.length;i++){var m=/scaleX\(([\d.]+)\)/.exec(els[i].style.transform);S.push(m?parseFloat(m[1]):1);}
for(var k in L){var e=document.getElementById(k);if(e)F[k]=parseFloat(e.style.fontSize);}
function fit(){
 for(var i=0;i<els.length&&i<T.length;i++){
  var e=els[i]; e.style.transform='none';
  var w=e.getBoundingClientRect().width;
  var s=(w>0&&Math.abs(w-T[i])>1.5)?S[i]*T[i]/w:S[i];
  e.style.transform='scaleX('+s.toFixed(4)+')';
 }
 for(var k in L){var e=document.getElementById(k);if(!e)continue;e.style.fontSize=F[k]+'px';var w=e.getBoundingClientRect().width;
  if(w>0&&Math.abs(w-L[k])>1.5){e.style.fontSize=(F[k]*L[k]/w).toFixed(2)+'px';}}
}
fit();
if(document.fonts&&document.fonts.ready){document.fonts.ready.then(fit);}
})();
</script>
</body></html>
